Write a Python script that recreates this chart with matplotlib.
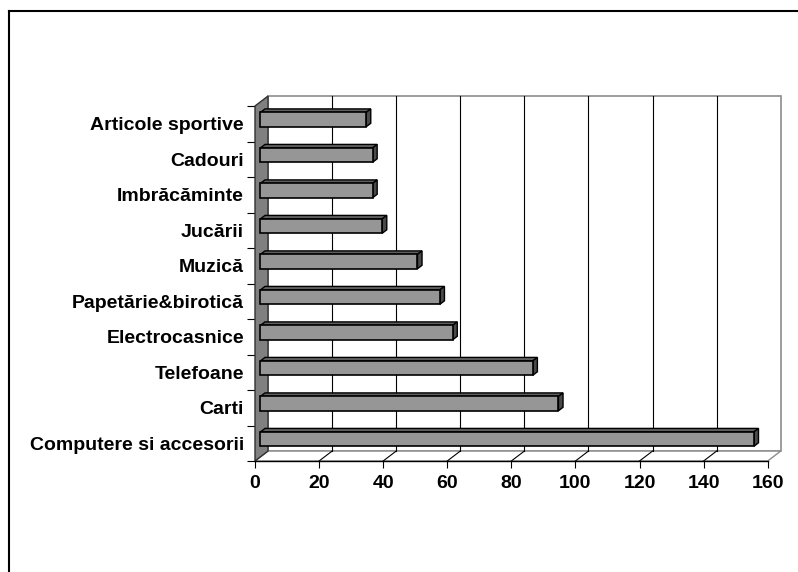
import numpy as np
import matplotlib.pyplot as plt
from matplotlib.patches import Polygon
from matplotlib.lines import Line2D

plt.rcParams['font.family'] = ['Liberation Sans', 'DejaVu Sans']
plt.rcParams['font.weight'] = 'bold'

categories = ["Computere si accesorii", "Carti", "Telefoane", "Electrocasnice",
              "Papetărie&birotică", "Muzică", "Jucării", "Imbrăcăminte",
              "Cadouri", "Articole sportive"]
values = [154, 93, 85, 60, 56, 49, 38, 35, 35, 33]
xticks = [0, 20, 40, 60, 80, 100, 120, 140, 160]

# 3d look: depth offset in data units
DX = 4.06
DY = 0.28
F1 = 0.42   # bar front face depth
F2 = 0.77   # bar back face depth
BAR_H = 0.405


def main():
    fig = plt.figure(figsize=(7.98, 5.72), dpi=100)
    ax = fig.add_axes([255 / 798, 111 / 572, 512.7 / 798, 355 / 572])
    xmax = xticks[-1]
    n = len(categories)
    ax.set_xlim(0, xmax)
    ax.set_ylim(0, n)
    for s in ax.spines.values():
        s.set_visible(False)

    # walls and floor
    ax.add_patch(Polygon([(DX, DY), (xmax + DX, DY), (xmax + DX, n + DY), (DX, n + DY)],
                         closed=True, fc='white', ec='#8c8c8c', lw=1.2, zorder=1, clip_on=False))
    ax.add_patch(Polygon([(0, 0), (xmax, 0), (xmax + DX, DY), (DX, DY)],
                         closed=True, fc='white', ec='#8c8c8c', lw=1.0, zorder=1, clip_on=False))
    ax.add_patch(Polygon([(0, 0), (DX, DY), (DX, n + DY), (0, n)],
                         closed=True, fc='#808080', ec='#303030', lw=1.0, zorder=2, clip_on=False))
    for v in xticks[1:-1]:
        ax.plot([v + DX, v + DX], [DY, n + DY], color='black', lw=0.8, zorder=1.5, clip_on=False)
        ax.plot([v, v + DX], [0, DY], color='black', lw=0.8, zorder=1.5, clip_on=False)
    ax.plot([0, xmax], [0, 0], color='black', lw=1.0, zorder=3, clip_on=False)

    # bars
    ox = (F2 - F1) * DX
    oy = (F2 - F1) * DY
    for i, v in enumerate(values):
        x0 = F1 * DX
        x1 = x0 + v
        yb = i + 0.5 - BAR_H / 2 + F1 * DY
        yt = yb + BAR_H
        ax.add_patch(Polygon([(x0, yt), (x1, yt), (x1 + ox, yt + oy), (x0 + ox, yt + oy)],
                             closed=True, fc='#5f5f5f', ec='black', lw=1.0, zorder=4, clip_on=False))
        ax.add_patch(Polygon([(x1, yb), (x1, yt), (x1 + ox, yt + oy), (x1 + ox, yb + oy)],
                             closed=True, fc='#4a4a4a', ec='black', lw=1.0, zorder=4, clip_on=False))
        ax.add_patch(Polygon([(x0, yb), (x1, yb), (x1, yt), (x0, yt)],
                             closed=True, fc='#969696', ec='black', lw=1.2, zorder=5, clip_on=False))

    ax.set_xticks(xticks)
    ax.set_xticklabels([str(t) for t in xticks], fontsize=14, fontweight='bold')
    ax.tick_params(axis='x', direction='out', length=5, width=0.8, pad=5)
    ax.set_yticks(np.arange(n + 1), minor=True)
    ax.set_yticks(np.arange(n) + 0.5)
    ax.set_yticklabels(categories, fontsize=14, fontweight='bold')
    ax.tick_params(axis='y', which='major', length=0, pad=8)
    ax.tick_params(axis='y', which='minor', direction='out', length=6, width=0.8)

    # chart area frame (right and bottom edges fall outside the image)
    fig.add_artist(Line2D([8.5 / 798, 8.5 / 798], [0, 1 - 11 / 572], color='black', lw=1.5))
    fig.add_artist(Line2D([8.5 / 798, 1], [1 - 11 / 572, 1 - 11 / 572], color='black', lw=1.5))

    fig.savefig("out.png", dpi=100)


if __name__ == "__main__":
    main()
